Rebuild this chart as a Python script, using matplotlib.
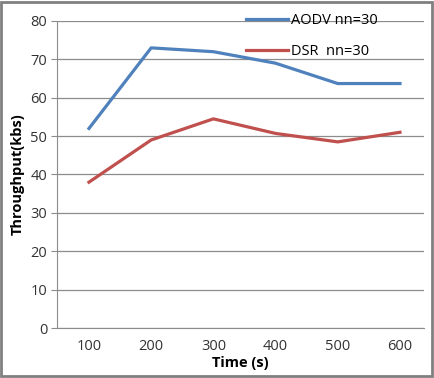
import matplotlib
matplotlib.use("Agg")
import matplotlib.pyplot as plt
from matplotlib.patches import Rectangle

plt.rcParams['font.family'] = ['Open Sans', 'DejaVu Sans']

times = ["100", "200", "300", "400", "500", "600"]
aodv = [52, 73, 72, 69, 63.7, 63.7]
dsr = [38, 49, 54.5, 50.7, 48.5, 51]

fig = plt.figure(figsize=(4.34, 3.78), dpi=100)
ax = fig.add_axes([57/434, 1 - 328/378, 367/434, 307/378])

x = range(len(times))
ax.plot(x, aodv, color="#4F81BD", lw=2.3, label="AODV nn=30")
ax.plot(x, dsr, color="#C0504D", lw=2.3, label="DSR  nn=30")

ax.set_xlim(-0.514, 5.386)
ax.set_ylim(0, 80)
ax.set_yticks(range(0, 81, 10))
ax.set_xticks(list(x))
ax.set_xticklabels(times)
ax.grid(axis="y", color="#8c8c8c", lw=0.9)
ax.set_axisbelow(True)
for s in ["top", "right"]:
    ax.spines[s].set_visible(False)
ax.spines["left"].set_color("#8c8c8c")
ax.spines["bottom"].set_color("#8c8c8c")
ax.tick_params(axis="y", length=4, color="#8c8c8c", labelsize=10.5, colors="#333333", pad=3)
ax.tick_params(axis="x", length=0, labelsize=10.5, colors="#333333", pad=8)

ax.set_xlabel("Time (s)", fontweight="bold", fontsize=10.5, labelpad=1)
ax.set_ylabel("Throughput(kbs)", fontweight="bold", fontsize=10.5, labelpad=4)

ax.legend(loc="upper right", bbox_to_anchor=(0.91, 1.07), frameon=False, fontsize=10.5,
          handlelength=2.9, handletextpad=0.2, labelspacing=1.1)

fig.patches.append(Rectangle((0.003, 0.004), 0.992, 0.99, transform=fig.transFigure,
                             fill=False, edgecolor="#808080", lw=2))

fig.savefig("out.png", dpi=100)
